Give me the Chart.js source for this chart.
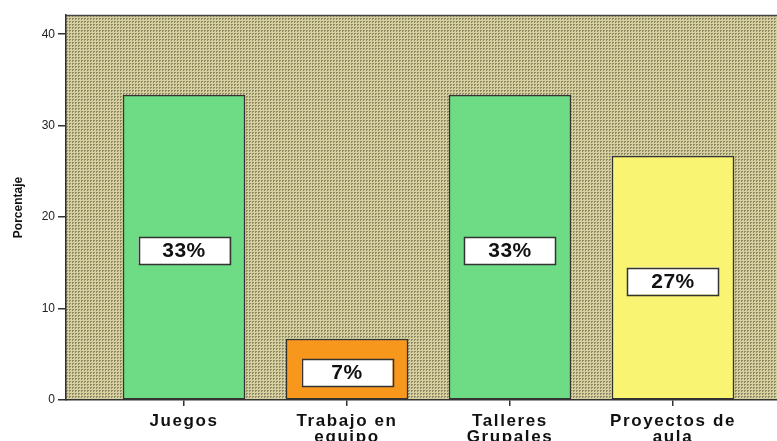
<!DOCTYPE html>
<html>
<head>
<meta charset="utf-8">
<script src="https://cdn.jsdelivr.net/npm/chart.js@4/dist/chart.umd.min.js"></script>
<style>
html,body{margin:0;padding:0;background:#fff;overflow:hidden;width:777px;height:441px;}
#wrap{width:800px;height:441px;}
</style>
</head>
<body>
<div id="wrap"><canvas id="c" width="800" height="441"></canvas></div>
<script>
const categories = [["Juegos"], ["Trabajo en", "equipo"], ["Talleres", "Grupales"], ["Proyectos de", "aula"]];
const values = [33.33, 6.67, 33.33, 26.67];
const barColors = ["#6edc85", "#f7981d", "#6edc85", "#f9f471"];
const yTicks = [0, 10, 20, 30, 40];

function makePattern() {
  const t = document.createElement('canvas');
  t.width = 3; t.height = 3;
  const g = t.getContext('2d');
  g.fillStyle = '#d6d0a0';
  g.fillRect(0, 0, 3, 3);
  g.fillStyle = '#8f8964';
  g.fillRect(0, 0, 2, 1);
  g.fillRect(0, 1, 1, 1);
  return t;
}

const bgPlugin = {
  id: 'bg',
  beforeDraw(chart) {
    const {ctx, chartArea: a} = chart;
    ctx.save();
    ctx.fillStyle = ctx.createPattern(makePattern(), 'repeat');
    ctx.fillRect(a.left, a.top, a.right - a.left, a.bottom - a.top);
    ctx.strokeStyle = '#444';
    ctx.lineWidth = 1.5;
    ctx.beginPath();
    ctx.moveTo(a.left, a.top + 0.5);
    ctx.lineTo(a.right, a.top + 0.5);
    ctx.stroke();
    ctx.restore();
  },
  afterLayout(chart) {
    const sx = chart.scales.x;
    if (!sx._wrapped) {
      const orig = sx.drawLabels;
      sx.drawLabels = function (area) {
        const ctx = this.ctx;
        ctx.save();
        ctx.letterSpacing = '1.6px';
        orig.call(this, area);
        ctx.restore();
      };
      sx._wrapped = true;
    }
  },
  afterDatasetsDraw(chart) {
    const {ctx} = chart;
    const ys = chart.scales.y;
    const meta = chart.getDatasetMeta(0);
    ctx.save();
    meta.data.forEach((bar, i) => {
      const v = values[i];
      const cx = bar.x;
      const cy = ys.getPixelForValue(v / 2) + 3;
      const w = 91, h = 27;
      ctx.fillStyle = '#fff';
      ctx.fillRect(cx - w / 2, cy - h / 2, w, h);
      ctx.strokeStyle = '#333';
      ctx.lineWidth = 1.5;
      ctx.strokeRect(Math.round(cx - w / 2) + 0.5, Math.round(cy - h / 2) + 0.5, w, h);
      ctx.fillStyle = '#111';
      ctx.font = 'bold 21px "Liberation Sans", Arial, sans-serif';
      ctx.letterSpacing = '0.5px';
      ctx.textAlign = 'center';
      ctx.textBaseline = 'middle';
      ctx.fillText(Math.round(v) + '%', cx, cy + 1);
    });
    ctx.restore();
  }
};

new Chart(document.getElementById('c'), {
  type: 'bar',
  data: {
    datasets: [{
      data: values.map((v, i) => ({x: i, y: v})),
      backgroundColor: barColors,
      borderColor: '#333',
      borderWidth: 1.5,
      borderSkipped: false,
      barThickness: 122
    }]
  },
  options: {
    responsive: false,
    animation: false,
    events: [],
    layout: {padding: {left: 7, top: 15, right: 9, bottom: 0}},
    plugins: {legend: {display: false}, tooltip: {enabled: false}},
    scales: {
      x: {
        type: 'linear',
        offset: false,
        min: -0.724,
        max: 3.724,
        afterBuildTicks(s) { s.ticks = categories.map((c, i) => ({value: i})); },
        afterFit(s) { s.height = 41; },
        grid: {offset: false, drawOnChartArea: false, drawTicks: true, tickLength: 6, color: '#333', lineWidth: 1.5},
        border: {display: true, color: '#333', width: 1.5},
        ticks: {
          autoSkip: false,
          maxRotation: 0,
          padding: 7,
          color: '#111',
          font: {family: '"Liberation Sans", Arial, sans-serif', size: 17, weight: 'bold', lineHeight: 0.95},
          callback(v) { return categories[v]; }
        }
      },
      y: {
        min: 0,
        max: 42.1,
        afterBuildTicks(s) { s.ticks = yTicks.map(v => ({value: v})); },
        afterFit(s) { s.width = 59; },
        grid: {drawOnChartArea: false, drawTicks: true, tickLength: 8, color: '#333', lineWidth: 1.5},
        border: {display: true, color: '#333', width: 1.5},
        ticks: {
          padding: 3,
          color: '#222',
          font: {family: '"Liberation Sans", Arial, sans-serif', size: 12}
        },
        title: {
          display: true,
          text: 'Porcentaje',
          color: '#111',
          padding: {top: 4, bottom: 4},
          font: {family: '"Liberation Sans", Arial, sans-serif', size: 12, weight: 'bold'}
        }
      }
    }
  },
  plugins: [bgPlugin]
});
</script>
</body>
</html>
